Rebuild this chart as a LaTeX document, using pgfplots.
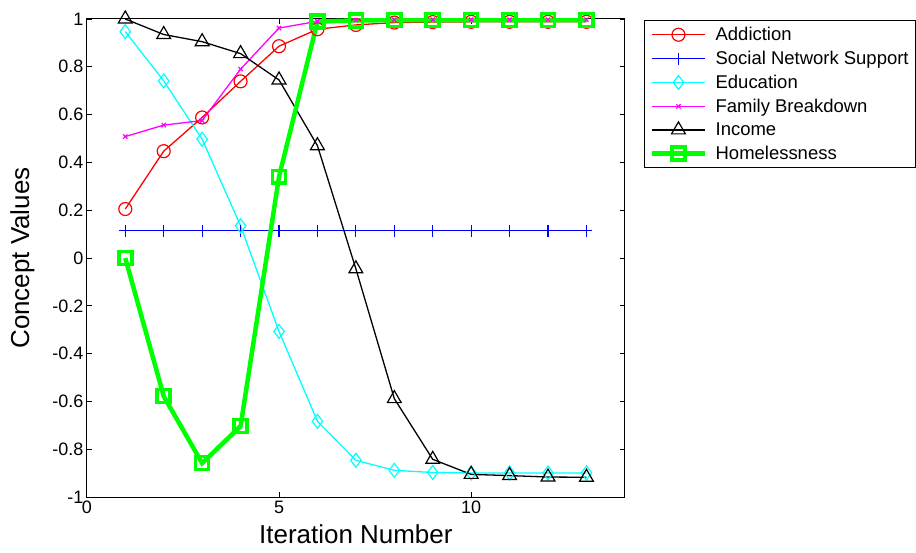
\documentclass[border=0pt]{standalone}
\usepackage{pgfplots}
\pgfplotsset{compat=1.18}
\usepackage{fontspec}
\setmainfont{Liberation Sans}
\definecolor{mred}{rgb}{1,0,0}
\definecolor{mblue}{rgb}{0,0,1}
\definecolor{mcyan}{rgb}{0,1,1}
\definecolor{mmag}{rgb}{1,0,1}
\definecolor{mgreen}{rgb}{0,1,0}
\begin{document}
\begin{tikzpicture}
\begin{axis}[
  scale only axis, width=539pt, height=479pt,
  xmin=0, xmax=14, ymin=-1, ymax=1,
  xtick={0,5,10},
  ytick={-1,-0.8,-0.6,-0.4,-0.2,0,0.2,0.4,0.6,0.8,1},
  yticklabels={-1,-0.8,-0.6,-0.4,-0.2,0,0.2,0.4,0.6,0.8,1},
  tick align=inside, major tick length=5pt,
  tick style={line width=0.8pt, color=black},
  axis line style={line width=1pt},
  ticklabel style={font=\fontsize{18}{20}\selectfont},
  /pgf/number format/assume math mode=true,
  xlabel={Iteration Number}, ylabel={Concept Values},
  label style={font=\fontsize{26}{28}\selectfont},
  xlabel style={yshift=-4pt},
  ylabel style={yshift=11pt},
  legend style={at={(1.0353,0.998)}, anchor=north west, draw=black, line width=0.8pt,
    font=\fontsize{18.5}{20}\selectfont, row sep=5pt, inner xsep=5pt, inner ysep=5pt},
  legend cell align=left,
  legend image code/.code={\draw[mark repeat=2,mark phase=2] plot coordinates {(0pt,0pt) (27pt,0pt) (54pt,0pt)};
    \path (60pt,0pt) circle (0pt);},
  every axis plot/.append style={line width=1.3pt},
]
\addplot[mred, mark=o, mark size=6.5pt, mark options={line width=1.2pt}] coordinates {
(1,0.205) (2,0.447) (3,0.588) (4,0.739) (5,0.886) (6,0.957) (7,0.975) (8,0.985) (9,0.987) (10,0.988) (11,0.988) (12,0.988) (13,0.988)};
\addlegendentry{Addiction}
\addplot[mblue, mark=+, mark size=6pt, mark options={line width=1.2pt}] coordinates {
(1,0.115) (2,0.115) (3,0.115) (4,0.115) (5,0.115) (6,0.115) (7,0.115) (8,0.115) (9,0.115) (10,0.115) (11,0.115) (12,0.115) (13,0.115)};
\addlegendentry{Social Network Support}
\addplot[mcyan, mark=diamond, mark size=7pt, mark options={line width=1.2pt}] coordinates {
(1,0.947) (2,0.741) (3,0.497) (4,0.135) (5,-0.307) (6,-0.683) (7,-0.846) (8,-0.888) (9,-0.897) (10,-0.899) (11,-0.899) (12,-0.899) (13,-0.899)};
\addlegendentry{Education}
\addplot[mmag, mark=x, mark size=3pt, mark options={line width=1.2pt}] coordinates {
(1,0.508) (2,0.556) (3,0.575) (4,0.79) (5,0.962) (6,0.99) (7,0.995) (8,0.997) (9,0.997) (10,0.997) (11,0.997) (12,0.997) (13,0.997)};
\addlegendentry{Family Breakdown}
\addplot[black, mark=triangle, mark size=8pt, mark options={line width=1.2pt}] coordinates {
(1,1.0) (2,0.935) (3,0.905) (4,0.855) (5,0.745) (6,0.47) (7,-0.045) (8,-0.588) (9,-0.842) (10,-0.905) (11,-0.91) (12,-0.916) (13,-0.917)};
\addlegendentry{Income}
\addplot[mgreen, line width=4.5pt, mark=square, mark size=6.5pt, mark options={line width=3.5pt}] coordinates {
(1,0.0) (2,-0.578) (3,-0.858) (4,-0.703) (5,0.34) (6,0.989) (7,0.994) (8,0.995) (9,0.995) (10,0.995) (11,0.995) (12,0.995) (13,0.995)};
\addlegendentry{Homelessness}
\end{axis}
\path (-87pt,-55pt) rectangle (829pt,498pt);
\end{tikzpicture}
\end{document}
